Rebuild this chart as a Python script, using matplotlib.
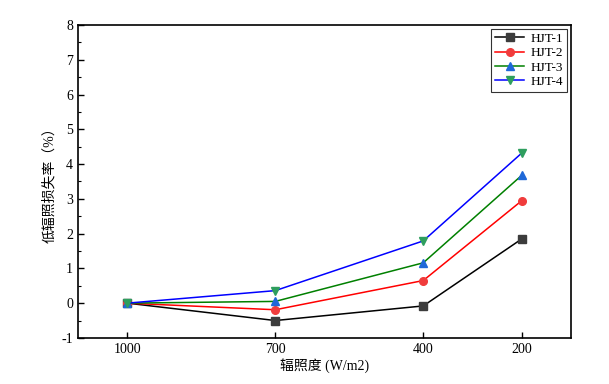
import matplotlib
matplotlib.use("Agg")
import matplotlib.pyplot as plt
from matplotlib.ticker import MultipleLocator, AutoMinorLocator

plt.rcParams['font.family'] = ['Liberation Serif', 'Noto Sans CJK SC', 'DejaVu Sans']
plt.rcParams['axes.unicode_minus'] = False

# irradiance levels (W/m2) and low-irradiance loss rate (%)
irradiance = [1000, 700, 400, 200]
hjt_1 = [0.0, -0.50, -0.08, 1.85]
hjt_2 = [0.0, -0.19, 0.65, 2.95]
hjt_3 = [0.0, 0.05, 1.16, 3.68]
hjt_4 = [0.0, 0.36, 1.79, 4.32]
labels = ['HJT-1', 'HJT-2', 'HJT-3', 'HJT-4']

series = [hjt_1, hjt_2, hjt_3, hjt_4]
line_colors = ['black', 'red', 'green', 'blue']
marker_colors = ['#3c3c3c', '#f03c3c', '#1f68d8', '#2e9e5e']
markers = ['s', 'o', '^', 'v']

fig = plt.figure(figsize=(6.09, 3.84), dpi=100)
ax = fig.add_axes([0.128, 0.12, 0.81, 0.815])

for vals, lc, mc, m, lab in zip(series, line_colors, marker_colors, markers, labels):
    ax.plot(irradiance, vals, color=lc, lw=1.1, marker=m, markersize=5.5,
            markerfacecolor=mc, markeredgecolor=mc, label=lab)

ax.set_xlim(1100, 100)
ax.set_ylim(-1, 8)
ax.set_xticks(irradiance)
ax.yaxis.set_major_locator(MultipleLocator(1))
ax.yaxis.set_minor_locator(AutoMinorLocator(2))
ax.tick_params(axis='both', direction='in', labelsize=10, width=1, length=4)
ax.tick_params(axis='y', which='minor', direction='in', length=2.5, width=0.8)
for sp in ax.spines.values():
    sp.set_linewidth(1.2)

ax.set_xlabel('辐照度 (W/m2)', fontsize=10, labelpad=2)
ax.set_ylabel('低辐照损失率（%）', fontsize=10, labelpad=4)

leg = ax.legend(loc='upper right', fontsize=9.5, frameon=True, fancybox=False,
                edgecolor='black', handlelength=2.2, borderpad=0.3,
                labelspacing=0.15, handletextpad=0.5, borderaxespad=0.3)
leg.get_frame().set_linewidth(0.8)

fig.savefig('out.png', dpi=100)
